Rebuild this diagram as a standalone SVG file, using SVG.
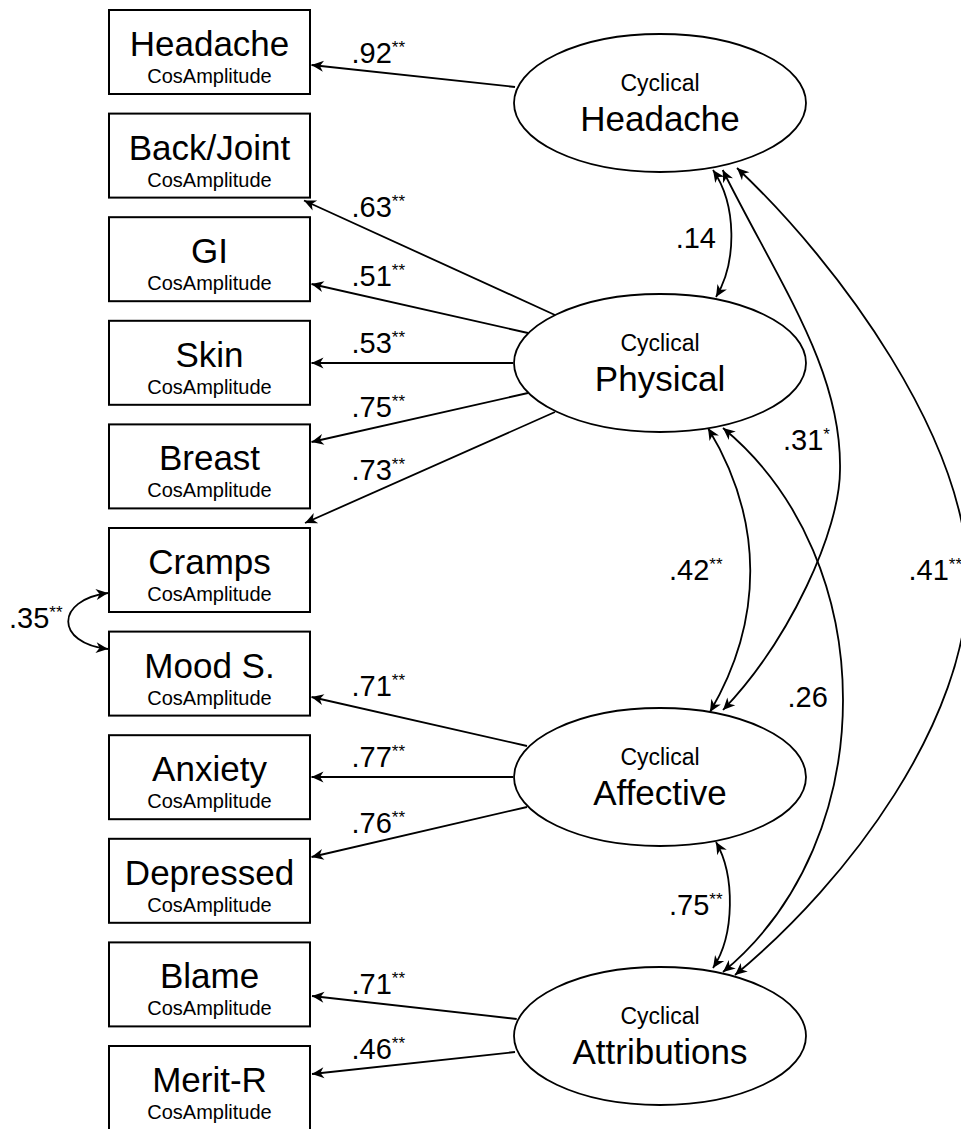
<svg xmlns="http://www.w3.org/2000/svg" width="961" height="1129" viewBox="0 0 961 1129">
<style>
.box{fill:#fff;stroke:#000;stroke-width:2}
.ell{fill:#fff;stroke:#000;stroke-width:1.8}
text{font-family:"Liberation Sans",Arial,Helvetica,sans-serif;fill:#000}
.c{text-anchor:middle}
.big{font-size:35px}
.sub{font-size:20px}
.cyc{font-size:23px}
.num{font-size:29px}
.sup{font-size:17px}
.ld{fill:none;stroke:#000;stroke-width:1.8;marker-end:url(#ah)}
.cv{fill:none;stroke:#000;stroke-width:1.8;marker-start:url(#ah);marker-end:url(#ah)}
</style>
<defs>
<marker id="ah" viewBox="-13 -7 14 14" refX="0" refY="0" markerWidth="14" markerHeight="14" markerUnits="userSpaceOnUse" orient="auto-start-reverse">
<path d="M0,0 L-12,-5.5 L-8.5,0 L-12,5.5 z" fill="#000"/>
</marker>
</defs>
<rect width="961" height="1129" fill="#fff"/>
<g id="connectors">
<path class="ld" d="M515,87 L311.5,65"/>
<path class="ld" d="M555,315 L304,200.5"/>
<path class="ld" d="M528,333 L311.5,284"/>
<path class="ld" d="M513,363 L311.5,363"/>
<path class="ld" d="M528,393 L311.5,442"/>
<path class="ld" d="M555,412 L305,523"/>
<path class="ld" d="M527,746 L311.5,697"/>
<path class="ld" d="M513,777 L311.5,777"/>
<path class="ld" d="M527,807 L311.5,857"/>
<path class="ld" d="M516.7,1019 L312,996"/>
<path class="ld" d="M515,1052 L312,1074"/>
<path class="cv" d="M713,170 C737,205 737,262 716,297"/>
<path class="cv" d="M722.7,170 C780,285 842,370 840,470 C840,530 790,640 723,710"/>
<path class="cv" d="M737,168 C840,265 968,440 968,580 C968,720 850,880 735,975"/>
<path class="cv" d="M708,428 C764,520 764,620 710,712"/>
<path class="cv" d="M723,428 C883,560 883,840 723,972"/>
<path class="cv" d="M716,842 C735,875 735,935 713,968"/>
<path class="cv" d="M108,593 C55,600 55,643 108,649"/>
<text class="num" x="351.5" y="63">.92<tspan class="sup" dy="-10">**</tspan></text>
<text class="num" x="351.5" y="217">.63<tspan class="sup" dy="-10">**</tspan></text>
<text class="num" x="351.5" y="286">.51<tspan class="sup" dy="-10">**</tspan></text>
<text class="num" x="351.5" y="353">.53<tspan class="sup" dy="-10">**</tspan></text>
<text class="num" x="351.5" y="417">.75<tspan class="sup" dy="-10">**</tspan></text>
<text class="num" x="351.5" y="480">.73<tspan class="sup" dy="-10">**</tspan></text>
<text class="num" x="351.5" y="696">.71<tspan class="sup" dy="-10">**</tspan></text>
<text class="num" x="351.5" y="767">.77<tspan class="sup" dy="-10">**</tspan></text>
<text class="num" x="351.5" y="833">.76<tspan class="sup" dy="-10">**</tspan></text>
<text class="num" x="351.5" y="994">.71<tspan class="sup" dy="-10">**</tspan></text>
<text class="num" x="351.5" y="1059">.46<tspan class="sup" dy="-10">**</tspan></text>
<text class="num" x="675.7" y="248">.14</text>
<text class="num" x="783" y="450">.31<tspan class="sup" dy="-10">*</tspan></text>
<text class="num" x="669" y="580">.42<tspan class="sup" dy="-10">**</tspan></text>
<text class="num" x="908.5" y="580">.41<tspan class="sup" dy="-10">**</tspan></text>
<text class="num" x="787.5" y="707">.26</text>
<text class="num" x="669" y="915">.75<tspan class="sup" dy="-10">**</tspan></text>
<text class="num" x="9" y="628">.35<tspan class="sup" dy="-10">**</tspan></text>
</g>
<g id="n-headache"><rect class="box" x="109" y="10" width="201" height="84"/><text class="c big" x="209.5" y="56">Headache</text><text class="c sub" x="209.5" y="83">CosAmplitude</text></g>
<g id="n-backjoint"><rect class="box" x="109" y="113.6" width="201" height="84"/><text class="c big" x="209.5" y="159.6">Back/Joint</text><text class="c sub" x="209.5" y="186.6">CosAmplitude</text></g>
<g id="n-gi"><rect class="box" x="109" y="217.2" width="201" height="84"/><text class="c big" x="209.5" y="263.2">GI</text><text class="c sub" x="209.5" y="290.2">CosAmplitude</text></g>
<g id="n-skin"><rect class="box" x="109" y="320.8" width="201" height="84"/><text class="c big" x="209.5" y="366.8">Skin</text><text class="c sub" x="209.5" y="393.8">CosAmplitude</text></g>
<g id="n-breast"><rect class="box" x="109" y="424.4" width="201" height="84"/><text class="c big" x="209.5" y="470.4">Breast</text><text class="c sub" x="209.5" y="497.4">CosAmplitude</text></g>
<g id="n-cramps"><rect class="box" x="109" y="528" width="201" height="84"/><text class="c big" x="209.5" y="574">Cramps</text><text class="c sub" x="209.5" y="601">CosAmplitude</text></g>
<g id="n-mood"><rect class="box" x="109" y="631.6" width="201" height="84"/><text class="c big" x="209.5" y="677.6">Mood S.</text><text class="c sub" x="209.5" y="704.6">CosAmplitude</text></g>
<g id="n-anxiety"><rect class="box" x="109" y="735.2" width="201" height="84"/><text class="c big" x="209.5" y="781.2">Anxiety</text><text class="c sub" x="209.5" y="808.2">CosAmplitude</text></g>
<g id="n-depressed"><rect class="box" x="109" y="838.8" width="201" height="84"/><text class="c big" x="209.5" y="884.8">Depressed</text><text class="c sub" x="209.5" y="911.8">CosAmplitude</text></g>
<g id="n-blame"><rect class="box" x="109" y="942.4" width="201" height="84"/><text class="c big" x="209.5" y="988.4">Blame</text><text class="c sub" x="209.5" y="1015.4">CosAmplitude</text></g>
<g id="n-merit"><rect class="box" x="109" y="1046" width="201" height="84"/><text class="c big" x="209.5" y="1092">Merit-R</text><text class="c sub" x="209.5" y="1119">CosAmplitude</text></g>
<g id="l-headache"><ellipse class="ell" cx="660" cy="103" rx="146" ry="69"/><text class="c cyc" x="660" y="91">Cyclical</text><text class="c big" x="660" y="131">Headache</text></g>
<g id="l-physical"><ellipse class="ell" cx="660" cy="363" rx="146" ry="69"/><text class="c cyc" x="660" y="351">Cyclical</text><text class="c big" x="660" y="391">Physical</text></g>
<g id="l-affective"><ellipse class="ell" cx="660" cy="777" rx="146" ry="69"/><text class="c cyc" x="660" y="765">Cyclical</text><text class="c big" x="660" y="805">Affective</text></g>
<g id="l-attributions"><ellipse class="ell" cx="660" cy="1036" rx="146" ry="69"/><text class="c cyc" x="660" y="1024">Cyclical</text><text class="c big" x="660" y="1064">Attributions</text></g>
</svg>
